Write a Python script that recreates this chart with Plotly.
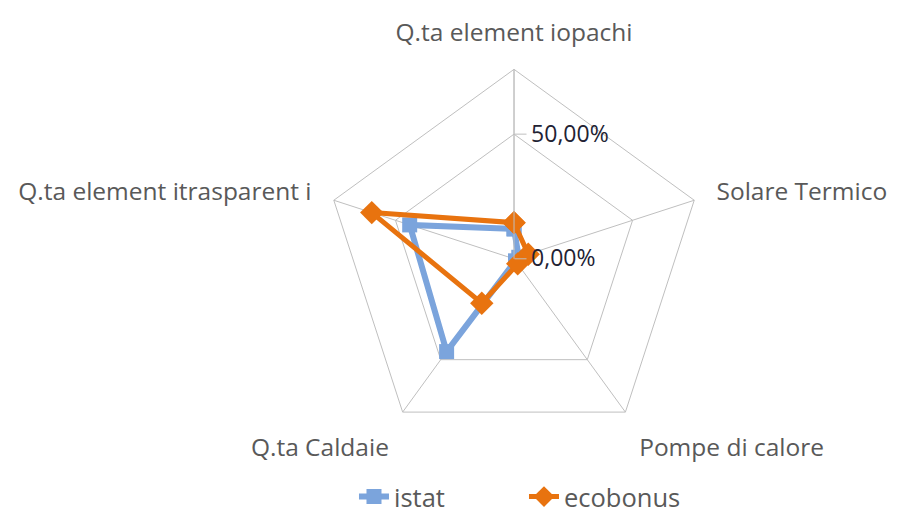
import plotly.graph_objects as go

# categorie (in senso orario, partendo dall'alto)
categorie = [
    "Q.ta element iopachi",
    "Solare Termico",
    "Pompe di calore",
    "Q.ta Caldaie",
    "Q.ta element itrasparent i",
]
istat = [0.12, 0.02, 0.01, 0.46, 0.44]
ecobonus = [0.145, 0.06, 0.025, 0.22, 0.60]

r_ticks = [0.0, 0.5]
r_labels = ["0,00%", "50,00%"]

GRID = "#bfbfbf"
TEXT = "#595959"
FONT = "Open Sans"


def _closed(vals):
    return vals + vals[:1]


fig = go.Figure()

fig.add_trace(go.Scatterpolar(
    r=_closed(istat), theta=_closed(categorie), name="istat",
    mode="lines+markers",
    line=dict(color="#7ba4dc", width=6),
    marker=dict(symbol="square", size=15, color="#7ba4dc"),
))
fig.add_trace(go.Scatterpolar(
    r=_closed(ecobonus), theta=_closed(categorie), name="ecobonus",
    mode="lines+markers",
    line=dict(color="#e8730f", width=5),
    marker=dict(symbol="diamond", size=18, color="#e8730f"),
))

# la pagina ha 8px di margine sul body: domini spostati di conseguenza
fig.update_layout(
    width=898, height=513,
    margin=dict(l=0, r=0, t=0, b=0),
    paper_bgcolor="white",
    font=dict(family=FONT, size=25.5, color=TEXT),
    polar=dict(
        domain=dict(x=[0.3525, 0.7745], y=[0.1417, 0.8805]),
        gridshape="linear",
        bgcolor="white",
        angularaxis=dict(
            rotation=90, direction="clockwise",
            showgrid=True, gridcolor=GRID, gridwidth=1,
            showline=True, linecolor=GRID, linewidth=1,
            ticks="outside", ticklen=18, tickcolor="rgba(0,0,0,0)",
            tickfont=dict(family=FONT, size=24.5, color=TEXT),
        ),
        radialaxis=dict(
            range=[0, 0.76], angle=90,
            tickvals=r_ticks, ticktext=r_labels,
            showgrid=True, gridcolor=GRID, gridwidth=1,
            showline=True, linecolor=GRID, linewidth=1,
            ticks="outside", ticklen=12, tickcolor=GRID,
            tickfont=dict(family=FONT, size=23, color="#222233"),
            tickangle=90,
        ),
    ),
    legend=dict(
        orientation="h", x=0.5746, xanchor="center", y=0.0468, yanchor="middle",
        font=dict(family=FONT, size=25.5, color=TEXT),
        entrywidth=125,
    ),
)

fig.write_html("out.html")
